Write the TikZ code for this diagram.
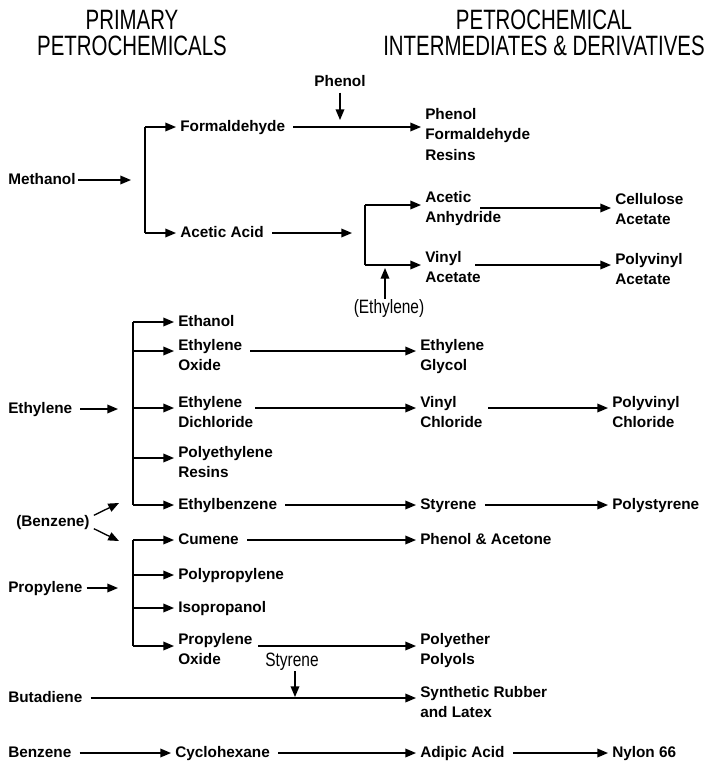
\documentclass[tikz,border=0pt]{standalone}
\usepackage{fontspec}
\setmainfont{Liberation Sans}
\newfontfamily\titlefont[FakeStretch=0.73]{Liberation Sans}
\newfontfamily\condfont[FakeStretch=0.8]{Liberation Sans}
\usetikzlibrary{arrows.meta}
\begin{document}
\begin{tikzpicture}[x=0.75pt,y=-0.75pt,
  lbl/.style={inner sep=0pt, anchor=west, font=\bfseries\fontsize{11.5}{15.4}\selectfont, execute at begin node=\strut},
  lbl2/.style={lbl, align=left, anchor=north west},
  cnd/.style={inner sep=0pt, anchor=center, font=\condfont\fontsize{14.5}{16}\selectfont},
  ttl/.style={inner sep=0pt, align=center, font=\titlefont\fontsize{21}{19.5}\selectfont},
  arr/.style={-{Triangle[length=8pt,width=6.5pt]}, line width=1pt, shorten >=3pt},
  gap/.style={shorten <=6pt},
  ln/.style={line width=1pt}]
\useasboundingbox (0,0) rectangle (710,761);

% titles
\node[ttl] (t1) at (132,33) {PRIMARY\\PETROCHEMICALS};
\node[ttl] (t2) at (544,33) {PETROCHEMICAL\\INTERMEDIATES \& DERIVATIVES};

% ---------- Methanol ----------
\node[lbl] (methanol) at (8,180) {Methanol};
\node[lbl] (form) at (180,127) {Formaldehyde};
\node[lbl] (acetic) at (180,233) {Acetic Acid};
\node[lbl,anchor=center] (phenolTop) at (340,82) {Phenol};
\node[lbl2] (pfr) at (425,108) {Phenol\\Formaldehyde\\Resins};
\node[lbl2] (aan) at (425,191) {Acetic\\Anhydride};
\node[lbl2] (vac) at (425,251) {Vinyl\\Acetate};
\node[lbl2] (cac) at (615,193) {Cellulose\\Acetate};
\node[lbl2] (pva) at (615,253) {Polyvinyl\\Acetate};
\node[cnd] (ethP) at (389,308) {(Ethylene)};

\coordinate (mtip) at (135,180);
\coordinate (mb1) at (145,127);
\coordinate (mb2) at (145,233);
\coordinate (phtip) at (340,120);
\coordinate (aatip) at (352,233);
\coordinate (vb1) at (365,205);
\coordinate (vb2) at (365,265);
\coordinate (etip) at (385,268);
\coordinate (c1) at (480,208);
\coordinate (c2) at (475,265);

\draw[arr,shorten <=2pt] (methanol) -- (mtip);
\draw[ln] (mb1) -- (mb2);
\draw[arr] (mb1) -- (form.west);
\draw[arr] (mb2) -- (acetic.west);
\draw[arr,shorten >=0pt] (phenolTop) -- (phtip);
\draw[arr,gap] (form.east) -- (pfr.west |- form.east);
\draw[arr,gap,shorten >=0pt] (acetic.east) -- (aatip);
\draw[ln] (vb1) -- (vb2);
\draw[arr] (vb1) -- (aan.west |- vb1);
\draw[arr] (vb2) -- (vac.west |- vb2);
\draw[arr,shorten >=0pt] (etip |- ethP.north) -- (etip);
\draw[arr] (c1) -- (cac.west |- c1);
\draw[arr] (c2) -- (pva.west |- c2);

% ---------- Ethylene ----------
\node[lbl] (ethylene) at (8,409) {Ethylene};
\node[lbl] (ethanol) at (178,322) {Ethanol};
\node[lbl2] (eo) at (178,339) {Ethylene\\Oxide};
\node[lbl2] (edc) at (178,396) {Ethylene\\Dichloride};
\node[lbl2] (pe) at (178,446) {Polyethylene\\Resins};
\node[lbl] (ebz) at (178,505) {Ethylbenzene};
\node[lbl2] (eg) at (420,339) {Ethylene\\Glycol};
\node[lbl2] (vc) at (420,396) {Vinyl\\Chloride};
\node[lbl2] (pvc) at (612,396) {Polyvinyl\\Chloride};
\node[lbl] (sty) at (420,505) {Styrene};
\node[lbl] (psty) at (612,505) {Polystyrene};

\coordinate (etTip) at (118,409);
\coordinate (eb1) at (133,322);
\coordinate (eb2) at (133,351);
\coordinate (eb3) at (133,408);
\coordinate (eb4) at (133,458);
\coordinate (eb5) at (133,505);
\coordinate (c3) at (250,351);
\coordinate (c4) at (255,408);
\coordinate (c5) at (488,408);

\draw[arr,gap,shorten >=0pt] (ethylene) -- (etTip);
\draw[ln] (eb1) -- (eb5);
\draw[arr] (eb1) -- (ethanol.west);
\draw[arr] (eb2) -- (eo.west |- eb2);
\draw[arr] (eb3) -- (edc.west |- eb3);
\draw[arr] (eb4) -- (pe.west |- eb4);
\draw[arr] (eb5) -- (ebz.west);
\draw[arr] (c3) -- (eg.west |- c3);
\draw[arr] (c4) -- (vc.west |- c4);
\draw[arr] (c5) -- (pvc.west |- c5);
\draw[arr,gap] (ebz.east) -- (sty.west);
\draw[arr,gap] (sty.east) -- (psty.west);

% ---------- (Benzene) ----------
\node[lbl] (benzP) at (16,522) {(Benzene)};
\coordinate (bz1) at (119,503);
\coordinate (bz2) at (119,541);
\draw[arr,shorten >=0pt] ([xshift=3pt,yshift=5pt]benzP.east) -- (bz1);
\draw[arr,shorten >=0pt] ([xshift=3pt,yshift=-5pt]benzP.east) -- (bz2);

% ---------- Propylene ----------
\node[lbl] (propylene) at (8,588) {Propylene};
\node[lbl] (cumene) at (178,540) {Cumene};
\node[lbl] (ppl) at (178,575) {Polypropylene};
\node[lbl] (ipa) at (178,608) {Isopropanol};
\node[lbl2] (po) at (178,633) {Propylene\\Oxide};
\node[lbl] (phac) at (420,540) {Phenol \& Acetone};
\node[lbl2] (pep) at (420,633) {Polyether\\Polyols};

\coordinate (prTip) at (118,588);
\coordinate (pb1) at (133,540);
\coordinate (pb2) at (133,575);
\coordinate (pb3) at (133,608);
\coordinate (pb4) at (133,646);
\coordinate (c6) at (258,646);

\draw[arr,shorten <=3pt,shorten >=0pt] (propylene) -- (prTip);
\draw[ln] (pb1) -- (pb4);
\draw[arr] (pb1) -- (cumene.west);
\draw[arr] (pb2) -- (ppl.west);
\draw[arr] (pb3) -- (ipa.west);
\draw[arr] (pb4) -- (po.west |- pb4);
\draw[arr,gap] (cumene.east) -- (phac.west);
\draw[arr] (c6) -- (pep.west |- c6);

% ---------- Butadiene ----------
\node[cnd] (styL) at (292,662) {Styrene};
\node[lbl] (butadiene) at (8,698) {Butadiene};
\node[lbl2] (sr) at (420,686) {Synthetic Rubber\\and Latex};
\coordinate (stTip) at (295,697);
\draw[arr,shorten >=0pt] (stTip |- styL.south) -- (stTip);
\draw[arr,gap] (butadiene.east) -- (sr.west |- butadiene.east);

% ---------- Benzene ----------
\node[lbl] (benzene) at (8,753) {Benzene};
\node[lbl] (cyclo) at (175,753) {Cyclohexane};
\node[lbl] (adip) at (420,753) {Adipic Acid};
\node[lbl] (nylon) at (612,753) {Nylon 66};
\draw[arr,gap] (benzene.east) -- (cyclo.west);
\draw[arr,gap] (cyclo.east) -- (adip.west);
\draw[arr,gap] (adip.east) -- (nylon.west);
\end{tikzpicture}
\end{document}
